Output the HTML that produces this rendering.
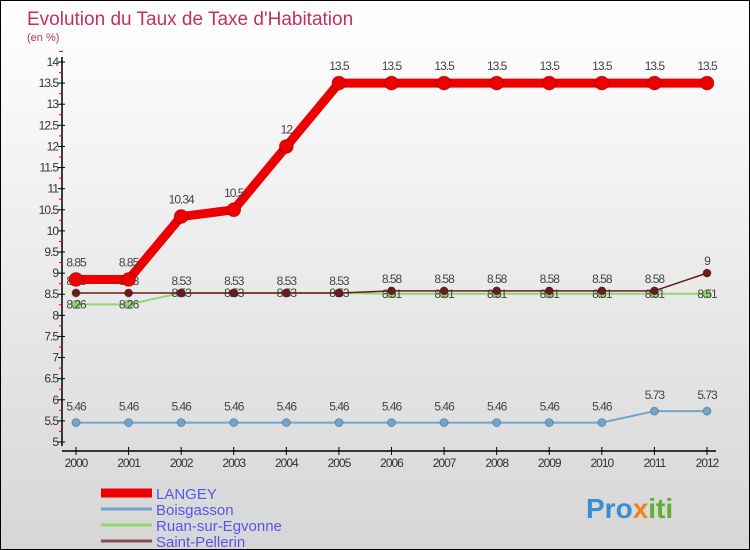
<!DOCTYPE html>
<html><head><meta charset="utf-8"><style>
body{margin:0}
#c{width:750px;height:550px;position:relative;box-sizing:border-box;border:1px solid #000;background:linear-gradient(#fff,#d6d6d6);font-family:"Liberation Sans",sans-serif;overflow:hidden}
</style></head><body>
<div id="c">
<svg id="s" width="748" height="548" style="position:absolute;left:0;top:0">
<text x="26" y="24" font-size="19" fill="#c03060">Evolution du Taux de Taxe d'Habitation</text>
<text x="26" y="40" font-size="11" fill="#c03060">(en %)</text>
<text x="585" y="517" font-size="28" font-weight="bold" fill="#3a8fd0">Pro<tspan fill="#f08020">x</tspan><tspan fill="#60b030">iti</tspan></text>
</svg>
</div>
<script>
const years=[2000,2001,2002,2003,2004,2005,2006,2007,2008,2009,2010,2011,2012];
const langey=[8.85,8.85,10.34,10.5,12,13.5,13.5,13.5,13.5,13.5,13.5,13.5,13.5];
const boisgasson=[5.46,5.46,5.46,5.46,5.46,5.46,5.46,5.46,5.46,5.46,5.46,5.73,5.73];
const ruan=[8.26,8.26,8.53,8.53,8.53,8.53,8.51,8.51,8.51,8.51,8.51,8.51,8.51];
const pellerin=[8.53,8.53,8.53,8.53,8.53,8.53,8.58,8.58,8.58,8.58,8.58,8.58,9];
const yTicks=[5,5.5,6,6.5,7,7.5,8,8.5,9,9.5,10,10.5,11,11.5,12,12.5,13,13.5,14];
const NS="http://www.w3.org/2000/svg",s=document.getElementById('s');
const X=i=>75+i*(706-75)/(years.length-1);
const Y=v=>441-(v-5)*(380/9);
function el(t,a,p){const e=document.createElementNS(NS,t);for(const k in a)e.setAttribute(k,a[k]);(p||s).appendChild(e);return e;}
let ax=el('line',{x1:61,y1:56,x2:61,y2:445,stroke:'#000','stroke-width':1.5});


let xa=el('line',{x1:61,y1:450,x2:715,y2:450,stroke:'#000','stroke-width':1.5});


yTicks.forEach(v=>{
 el('line',{x1:57,x2:64,y1:Y(v),y2:Y(v),stroke:'#000'});
 el('line',{x1:58,x2:62,y1:Y(v+0.25),y2:Y(v+0.25),stroke:'#e00'});
 const t=el('text',{x:57,y:Y(v)+4,'font-size':12,'text-anchor':'end',fill:'#333','letter-spacing':-1});t.textContent=String(v);
 
 
});
years.forEach((y,i)=>{
 el('line',{x1:X(i),x2:X(i),y1:446,y2:454,stroke:'#000'});
 const t=el('text',{x:X(i),y:466,'font-size':12,'text-anchor':'middle',fill:'#333','letter-spacing':-1});t.textContent=y;
 
 
});
function series(d,col,w,r,name,dy){
 const g=el('g',{});
 
 
 el('polyline',{points:d.map((v,i)=>X(i)+','+Y(v)).join(' '),fill:'none',stroke:col,'stroke-width':w,'stroke-linejoin':'round'},g);
 d.forEach((v,i)=>{
  const c=el('circle',{cx:X(i),cy:Y(v),r:r,fill:col,stroke:'rgba(0,0,0,0.25)'},g);
  
  
  const t=el('text',{x:X(i),y:Y(v)-dy,'font-size':12,'text-anchor':'middle',fill:'#444','letter-spacing':-1},g);t.textContent=String(v);
 });
}
series(boisgasson,'#6fa6cf',2,4,'boisgasson',12);
series(ruan,'#8fd870',2,4,'ruan',-4);
series(pellerin,'#6a1c1c',1.5,4,'saint-pellerin',8);
series(langey,'#ee0000',9,7,'langey',13);
const leg=[['LANGEY','#ee0000',9],['Boisgasson','#6fa6cf',3],['Ruan-sur-Egvonne','#8fd870',3],['Saint-Pellerin','#8a5050',3]];
leg.forEach((l,i)=>{
 const y=492+i*16;
 const g=el('g',{});
 
 
 el('line',{x1:100,x2:151,y1:y,y2:y,stroke:l[1],'stroke-width':l[2]},g);
 const t=el('text',{x:155,y:y+6,'font-size':15,fill:'#5555ee'},g);t.textContent=l[0];
});
</script>
</body></html>
